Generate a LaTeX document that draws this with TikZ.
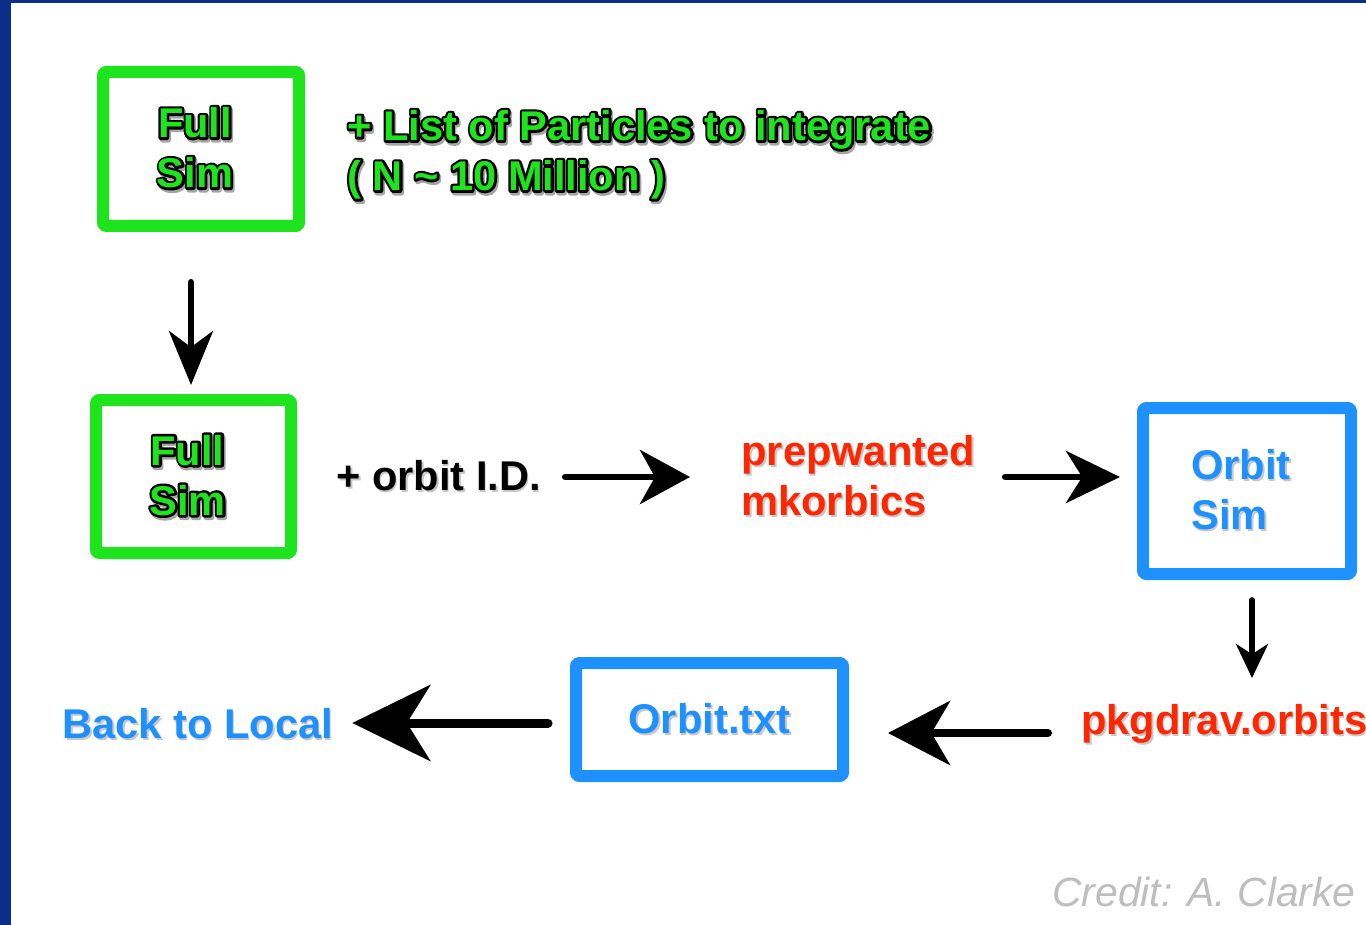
\documentclass[tikz,border=0pt]{standalone}
\usepackage{fontspec}
\setmainfont{Liberation Sans}
\newfontfamily\rimfont{Liberation Sans}[FakeBold=12]
\usetikzlibrary{arrows.meta}
\definecolor{navy}{RGB}{13,46,135}
\definecolor{simgreen}{RGB}{30,228,30}
\definecolor{orbblue}{RGB}{30,144,255}
\definecolor{pkgred}{RGB}{255,38,0}
\definecolor{creditgray}{RGB}{190,190,190}
% soft drop shadow under a word
\newcommand\shd[1]{\rlap{\kern0.8pt\raisebox{-1.1pt}{\color{black!22}#1}}#1}
% green word with a black rim
\newcommand\outl[1]{\rlap{\kern0.8pt\raisebox{-1.3pt}{\color{black!35}\rimfont\bfseries #1}}\rlap{\color{black}\rimfont\bfseries #1}{\color{simgreen}#1}}
\begin{document}
\begin{tikzpicture}[x=0.5pt, y=-0.5pt, line join=round,
  box/.style={draw=#1, line width=6pt, rounded corners=1.5pt, inner sep=0pt,
    font=\fontsize{20.8}{25}\selectfont\bfseries},
  txt/.style={inner sep=0pt, font=\fontsize{20.8}{25}\selectfont\bfseries, align=left},
  arr/.style 2 args={line width=3.4pt, line cap=round, -{Stealth[length=#1, width=#2, inset=0.3*#1]}}]
\useasboundingbox (0,0) rectangle (1366,925);
\fill[white] (0,0) rectangle (1366,925);
\fill[navy] (0,0) rectangle (1366,3);
\fill[navy] (0,0) rectangle (11,925);

% full simulation, first pass
\node[box=simgreen, minimum width=98pt, minimum height=77pt, align=center] (fullA) at (201,149) {\outl{Full}\hspace*{6pt}\\\outl{Sim}\hspace*{6pt}};
\node[txt, anchor=west] (plist) at (347,156) {\outl{+ List of Particles to integrate}\\\outl{( N \textasciitilde{} 10 Million )}};

% full simulation, second pass
\node[box=simgreen, minimum width=97.5pt, minimum height=76.5pt, align=center] (fullB) at (193.5,476.5) {\outl{Full}\hspace*{6pt}\\\outl{Sim}\hspace*{6pt}};
\node[txt, anchor=west] (orbid) at (336,477) {\shd{+ orbit I.D.}};
\node[txt, text=pkgred, anchor=west] (prep) at (741,477) {\shd{prepwanted}\\\shd{mkorbics}};
\node[box=orbblue, minimum width=104pt, minimum height=83pt, align=left, text=orbblue] (orbsim) at (1247,491) {\shd{Orbit}\hspace*{6pt}\\\shd{Sim}};

% way back
\node[txt, text=pkgred, anchor=west] (pkg) at (1081,725) {\shd{pkgdrav.orbits}};
\node[box=orbblue, minimum width=133.5pt, minimum height=56.5pt, text=orbblue] (otxt) at (709.5,719.5) {\shd{Orbit.txt}};
\node[txt, text=orbblue, anchor=west] (back) at (62,725) {\shd{Back to Local}};
\node[inner sep=0pt, anchor=west, font=\fontsize{20.4}{25}\selectfont\itshape, text=creditgray] (credit) at (1052,892) {Credit: A. Clarke};

\draw[arr={27pt}{22pt}, line width=3pt, shorten <=25pt, shorten >=4.5pt] ([xshift=-5pt]fullA.south) -- ([xshift=-5pt]fullA.south |- fullB.north);
\draw[arr={25pt}{27pt}, shorten <=12pt, shorten >=25.5pt] (orbid.east) -- (prep.west);
\draw[arr={27pt}{26pt}, shorten <=15pt, shorten >=8.5pt] (prep.east) -- (prep.east -| orbsim.west);
\draw[arr={17pt}{16pt}, line width=2.8pt, shorten <=10pt, shorten >=13pt] ([xshift=2.5pt]orbsim.south) -- ([xshift=2.5pt]orbsim.south |- pkg.north);
\draw[arr={31pt}{32pt}, line width=4pt, shorten <=16.5pt, shorten >=19.5pt] ([yshift=-4pt]pkg.west) -- ([yshift=-4pt]pkg.west -| otxt.east);
\draw[arr={39pt}{38pt}, line width=4.5pt, shorten <=11pt, shorten >=9.5pt] ([yshift=-1.75pt]otxt.west) -- ([yshift=-1.75pt]otxt.west -| back.east);
\end{tikzpicture}
\end{document}
